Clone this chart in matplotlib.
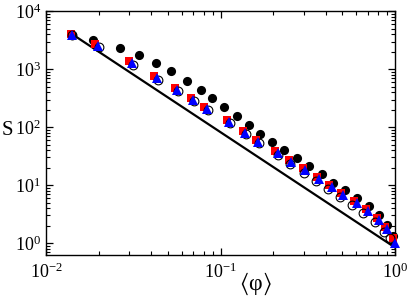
import numpy as np
import matplotlib
matplotlib.use("Agg")
import matplotlib.pyplot as plt

plt.rcParams['font.family'] = ['Liberation Serif', 'DejaVu Serif']
plt.rcParams['mathtext.fontset'] = 'stix'

# black filled circles
phi_black = [0.0140, 0.0187, 0.0267, 0.0340, 0.0425, 0.0518, 0.0643, 0.0770,
             0.0890, 0.1052, 0.1238, 0.1457, 0.1684, 0.1965, 0.2312, 0.2734,
             0.3228, 0.380, 0.443, 0.519, 0.603, 0.710, 0.810, 0.900, 0.974]
s_black = [3950, 3200, 2357, 1765, 1284, 935, 629, 440, 324, 227, 157, 110,
           77.6, 55.8, 40.6, 29.2, 21.5, 15.5, 11.1, 8.30, 5.97, 4.28, 3.08,
           2.07, 1.34]

# red squares
phi_red = [0.0139, 0.0191, 0.0300, 0.0417, 0.0547, 0.0676, 0.0807, 0.1083,
           0.1337, 0.1593, 0.2058, 0.2453, 0.2951, 0.3563, 0.4198, 0.489,
           0.584, 0.680, 0.786, 0.874, 0.970]
s_red = [4050, 2763, 1374, 757, 476, 320, 224, 134, 86.3, 61.1, 39.5, 27.3,
         19.9, 13.9, 10.2, 7.37, 5.42, 3.90, 2.73, 1.91, 1.23]

# open circles
phi_open = [0.0141, 0.0200, 0.0314, 0.0436, 0.0573, 0.0708, 0.0845, 0.1134,
            0.140, 0.1668, 0.2122, 0.250, 0.301, 0.3526, 0.4148, 0.4839,
            0.5648, 0.658, 0.768, 0.865, 0.935]
s_open = [3850, 2405, 1196, 659, 414, 278, 195, 116, 75.2, 53.2, 33.3, 23.3,
          16.1, 12.0, 8.53, 6.29, 4.58, 3.37, 2.27, 1.58, 1.23]

# blue triangles
phi_blue = [0.0140, 0.0198, 0.0310, 0.0431, 0.0565, 0.0698, 0.0834, 0.1119,
            0.1381, 0.1646, 0.2128, 0.2535, 0.3049, 0.3683, 0.4337, 0.5056,
            0.603, 0.703, 0.813, 0.904, 1.0]
s_blue = [3950, 2552, 1268, 700, 440, 296, 207, 123.4, 79.7, 56.5, 36.5,
          25.2, 18.4, 12.8, 9.46, 6.80, 5.01, 3.60, 2.52, 1.76, 1.0]

# power-law guide line
phi_line = [0.014, 1.0]
s_line = [4100, 0.84]

fig = plt.figure(figsize=(4.09, 2.96), dpi=100)
ax = fig.add_axes([0.1125, 0.1395, 0.8533, 0.8223])

ax.plot(phi_line, s_line, color='black', lw=1.6, zorder=1)
ax.plot(phi_black, s_black, 'o', color='black', ms=6.6, mew=0, zorder=2,
        clip_on=False)
ax.plot(phi_red, s_red, 's', color='#ff0000', ms=5.5, mew=0, zorder=3,
        clip_on=False)
ax.plot(phi_open, s_open, 'o', mfc='none', mec='black', ms=6.3, mew=0.8,
        zorder=4, clip_on=False)
ax.plot(phi_blue, s_blue, '^', color='#0000ff', ms=6.5, mew=0, zorder=5,
        clip_on=False)

ax.set_xscale('log')
ax.set_yscale('log')
ax.set_xlim(0.01, 1)
ax.set_ylim(0.63, 1e4)

ax.tick_params(which='both', direction='in', top=True, right=True,
               labelsize=13)
ax.tick_params(axis='x', pad=6)
ax.tick_params(axis='y', pad=3.5)
ax.tick_params(which='major', length=5, width=0.9)
ax.tick_params(which='minor', length=3, width=0.8)
ax.yaxis.set_minor_locator(matplotlib.ticker.LogLocator(base=10, subs=np.arange(2, 10)))
for sp in ax.spines.values():
    sp.set_linewidth(1.0)

ax.set_xlabel(r'$\langle$φ$\rangle$', fontsize=17, va='center')
ax.xaxis.set_label_coords(0.60, -0.118)
ax.set_ylabel('S', fontsize=15, rotation=0, va='center', ha='center')
ax.yaxis.set_label_coords(-0.11, 0.51)

fig.savefig('out.png', dpi=100)
